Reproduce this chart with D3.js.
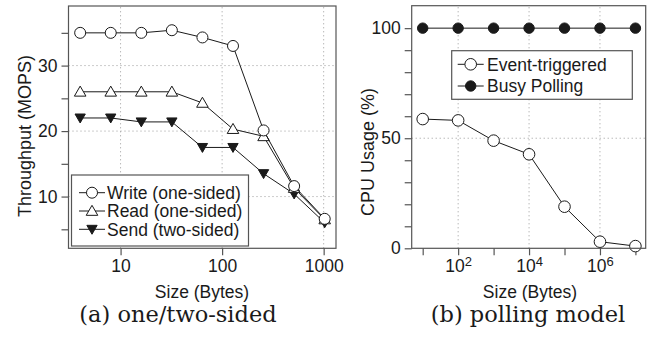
<!DOCTYPE html>
<html>
<head>
<meta charset="utf-8">
<script src="https://cdn.jsdelivr.net/npm/d3@7"></script>
<style>
  body { margin: 0; background: #fff; }
  svg { display: block; }
  text { font-family: "Liberation Sans", Arial, sans-serif; fill: #1a1a1a; }
  .caption { font-family: "DejaVu Serif", "Liberation Serif", serif; }
</style>
</head>
<body>
<div id="root"></div>
<script>
// panel (a): one/two-sided
const sizesA = [4, 8, 16, 32, 64, 128, 256, 512, 1024];
const writeA = [35, 35, 35, 35.4, 34.3, 33, 20.1, 11.6, 6.6];
const readA = [26, 26, 26, 26, 24.3, 20.3, 19.2, 11.3, 6.5];
const sendA = [22, 22, 21.4, 21.4, 17.5, 17.5, 13.5, 10.4, 6.0];
const xTicksA = [10, 100, 1000];
const yTicksA = [10, 20, 30];
const yMinorA = [5, 15, 25, 35];

// panel (b): polling model
const sizesB = [1e1, 1e2, 1e3, 1e4, 1e5, 1e6, 1e7];
const eventB = [58.7, 58.1, 48.9, 42.7, 18.9, 3.0, 1.0];
const busyB = [100, 100, 100, 100, 100, 100, 100];
const xTicksB = [1e1, 1e2, 1e3, 1e4, 1e5, 1e6, 1e7];
const xLabelsB = [1e2, 1e4, 1e6];
const yTicksB = [0, 50, 100];
const yMinorB = [10, 20, 30, 40, 60, 70, 80, 90];

const ink = "#1a1a1a";
const frameColor = "#555";
const gridColor = "#9a9a9a";
const tickFont = "17.5px";
const titleFont = "18px";

const svg = d3.select("#root").append("svg")
  .attr("width", 660)
  .attr("height", 342);

function drawFrame(g, x, y) {
  const [x0, x1] = x.range();
  const [y0, y1] = y.range();
  g.append("rect")
    .attr("x", x0).attr("y", y1)
    .attr("width", x1 - x0).attr("height", y0 - y1)
    .attr("fill", "none")
    .attr("stroke", frameColor)
    .attr("stroke-width", 1.2);
}

function drawGrid(g, x, y, xs, ys) {
  const [x0, x1] = x.range();
  const [y0, y1] = y.range();
  g.selectAll(".vgrid").data(xs).enter().append("line")
    .attr("x1", d => x(d)).attr("x2", d => x(d))
    .attr("y1", y0).attr("y2", y1)
    .attr("stroke", gridColor).attr("stroke-dasharray", "1,3");
  g.selectAll(".hgrid").data(ys).enter().append("line")
    .attr("x1", x0).attr("x2", x1)
    .attr("y1", d => y(d)).attr("y2", d => y(d))
    .attr("stroke", gridColor).attr("stroke-dasharray", "1,3");
}

function drawAxes(g, x, y, xTicks, yTicks, fmtX, fmtY) {
  const xAxis = g.append("g")
    .attr("transform", `translate(0,${y.range()[0]})`)
    .call(d3.axisBottom(x).tickValues(xTicks).tickSize(7).tickPadding(4).tickFormat(fmtX));
  const yAxis = g.append("g")
    .attr("transform", `translate(${x.range()[0]},0)`)
    .call(d3.axisLeft(y).tickValues(yTicks).tickSize(7).tickPadding(4).tickFormat(fmtY));
  [xAxis, yAxis].forEach(a => {
    a.select(".domain").remove();
    a.selectAll(".tick line").attr("stroke", frameColor).attr("stroke-width", 1.2);
    a.selectAll(".tick text")
      .attr("fill", ink)
      .style("font-family", '"Liberation Sans", Arial, sans-serif')
      .style("font-size", tickFont);
  });
  return xAxis;
}

function drawSeries(g, x, y, xs, ys, marker) {
  const line = d3.line().x((d, i) => x(xs[i])).y(d => y(d));
  g.append("path")
    .datum(ys)
    .attr("d", line)
    .attr("fill", "none")
    .attr("stroke", ink)
    .attr("stroke-width", 1);
  g.selectAll(null).data(ys).enter()
    .append("g")
    .attr("transform", (d, i) => `translate(${x(xs[i])},${y(d)})`)
    .each(function() { marker(d3.select(this)); });
}

const openCircle = r => s => s.append("circle").attr("r", r)
  .attr("fill", "#fff").attr("stroke", ink).attr("stroke-width", 1);
const fullCircle = r => s => s.append("circle").attr("r", r)
  .attr("fill", ink).attr("stroke", ink).attr("stroke-width", 1);
const openTriangle = s => s.append("path")
  .attr("d", d3.symbol(d3.symbolTriangle, 58)())
  .attr("transform", "translate(0,1)")
  .attr("fill", "#fff").attr("stroke", ink).attr("stroke-width", 1);
const fullTriangleDown = s => s.append("path")
  .attr("d", d3.symbol(d3.symbolTriangle, 46)())
  .attr("transform", "translate(0,-1) rotate(180)")
  .attr("fill", ink).attr("stroke", ink).attr("stroke-width", 1);

function drawLegend(g, box, items) {
  g.append("rect")
    .attr("x", box.x).attr("y", box.y)
    .attr("width", box.w).attr("height", box.h)
    .attr("fill", "#fff")
    .attr("stroke", frameColor).attr("stroke-width", 1.2);
  items.forEach((it, i) => {
    const cy = box.rowY[i];
    g.append("line")
      .attr("x1", box.sx - 13).attr("x2", box.sx + 13)
      .attr("y1", cy).attr("y2", cy)
      .attr("stroke", ink);
    it.marker(g.append("g").attr("transform", `translate(${box.sx},${cy})`));
    g.append("text")
      .attr("x", box.tx).attr("y", cy)
      .attr("dy", "0.36em")
      .style("font-size", tickFont)
      .text(it.label);
  });
}

// ---------- panel (a) ----------
const xA = d3.scaleLog().domain([3.07, 1323]).range([68.5, 336]);
const yA = d3.scaleLinear().domain([2.1, 39.1]).range([248.3, 6]);
const gA = svg.append("g");

drawGrid(gA, xA, yA, xTicksA, yTicksA);
drawAxes(gA, xA, yA, xTicksA, yTicksA, d3.format("d"), d3.format("d"));
gA.append("g")
  .attr("transform", `translate(${xA.range()[0]},0)`)
  .call(d3.axisLeft(yA).tickValues(yMinorA).tickSize(7).tickFormat(""))
  .call(a => a.select(".domain").remove())
  .selectAll("line").attr("stroke", frameColor).attr("stroke-width", 1.2);

drawSeries(gA, xA, yA, sizesA, sendA, fullTriangleDown);
drawSeries(gA, xA, yA, sizesA, readA, openTriangle);
drawSeries(gA, xA, yA, sizesA, writeA, openCircle(5.5));

drawLegend(gA, { x: 71.5, y: 175, w: 177, h: 71, sx: 92, tx: 107, rowY: [192.7, 211, 229.3] }, [
  { label: "Write (one-sided)", marker: openCircle(5.5) },
  { label: "Read (one-sided)", marker: openTriangle },
  { label: "Send (two-sided)", marker: fullTriangleDown }
]);
drawFrame(gA, xA, yA);

gA.append("text")
  .attr("transform", "translate(25,136) rotate(-90)")
  .attr("text-anchor", "middle").attr("dy", "0.35em")
  .style("font-size", titleFont)
  .text("Throughput (MOPS)");
gA.append("text")
  .attr("x", 202).attr("y", 298)
  .attr("text-anchor", "middle")
  .style("font-size", "17.5px")
  .text("Size (Bytes)");
gA.append("text")
  .attr("class", "caption")
  .attr("x", 178).attr("y", 322)
  .attr("text-anchor", "middle")
  .style("font-size", "22.5px")
  .text("(a) one/two-sided");

// ---------- panel (b) ----------
const xB = d3.scaleLog().domain([Math.pow(10, 0.69), Math.pow(10, 7.29)]).range([411.7, 645.7]);
const yB = d3.scaleLinear().domain([0, 110.2]).range([248.3, 5.7]);
const gB = svg.append("g");

drawGrid(gB, xB, yB, xLabelsB, [50]);
const xAxisB = drawAxes(gB, xB, yB, xTicksB, yTicksB, () => "", d3.format("d"));
xAxisB.selectAll(".tick")
  .filter(d => xLabelsB.includes(d))
  .select("text")
  .call(t => t.append("tspan").text("10"))
  .call(t => t.append("tspan")
    .attr("dy", "-0.45em")
    .style("font-size", "13px")
    .text(d => Math.round(Math.log10(d))));
gB.append("g")
  .attr("transform", `translate(${xB.range()[0]},0)`)
  .call(d3.axisLeft(yB).tickValues(yMinorB).tickSize(7).tickFormat(""))
  .call(a => a.select(".domain").remove())
  .selectAll("line").attr("stroke", frameColor).attr("stroke-width", 1.2);

drawSeries(gB, xB, yB, sizesB, busyB, fullCircle(5.2));
drawSeries(gB, xB, yB, sizesB, eventB, openCircle(5.8));

drawLegend(gB, { x: 451.7, y: 50.7, w: 180.6, h: 48.6, sx: 470.7, tx: 487, rowY: [64.3, 86] }, [
  { label: "Event-triggered", marker: openCircle(5.8) },
  { label: "Busy Polling", marker: fullCircle(5.2) }
]);
drawFrame(gB, xB, yB);

gB.append("text")
  .attr("transform", "translate(368,152) rotate(-90)")
  .attr("text-anchor", "middle").attr("dy", "0.35em")
  .style("font-size", titleFont)
  .text("CPU Usage (%)");
gB.append("text")
  .attr("x", 530).attr("y", 298)
  .attr("text-anchor", "middle")
  .style("font-size", "17.5px")
  .text("Size (Bytes)");
gB.append("text")
  .attr("class", "caption")
  .attr("x", 528).attr("y", 322)
  .attr("text-anchor", "middle")
  .style("font-size", "22.5px")
  .text("(b) polling model");
</script>
</body>
</html>
